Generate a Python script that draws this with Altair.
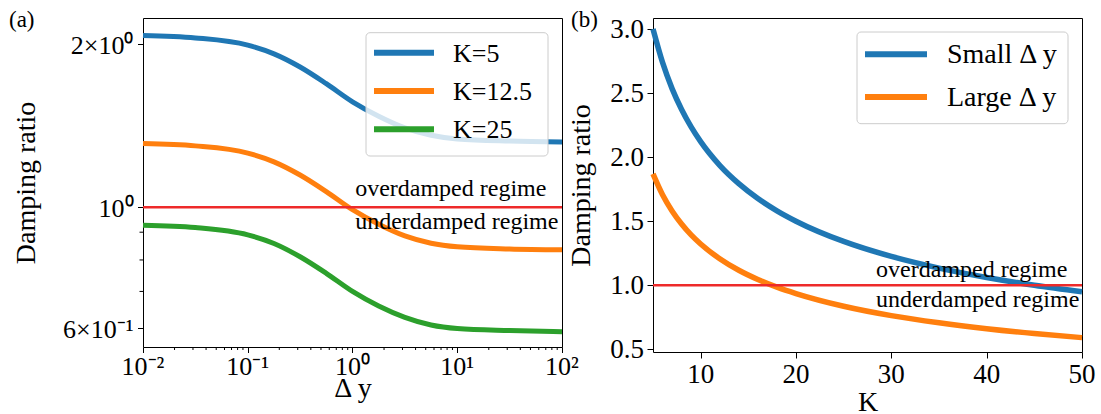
import altair as alt
import pandas as pd

FONT = "Liberation Serif"
RED = "#ee2a2a"

# ---------------- Panel (a) data ----------------
dy = [0.01, 0.0316, 0.1, 0.178, 0.316, 0.562, 1.0, 1.778, 3.162, 5.623, 10.0, 31.62, 100.0]
k5 = [2.073, 2.052, 1.990, 1.918, 1.814, 1.690, 1.565, 1.472, 1.401, 1.358, 1.337, 1.325, 1.320]
k12 = [1.311, 1.298, 1.259, 1.213, 1.147, 1.069, 0.990, 0.931, 0.886, 0.859, 0.846, 0.838, 0.835]
k25 = [0.927, 0.918, 0.890, 0.858, 0.811, 0.756, 0.700, 0.658, 0.627, 0.607, 0.598, 0.593, 0.590]
names_a = ["K=5", "K=12.5", "K=25"]
colors_a = ["#1f77b4", "#ff7f0e", "#2ca02c"]

xa_ticks = [0.01, 0.1, 1, 10, 100]
xa_labels = ["10⁻²", "10⁻¹", "10⁰", "10¹", "10²"]
xa_minor = [0.02, 0.03, 0.04, 0.05, 0.06, 0.07, 0.08, 0.09,
            0.2, 0.3, 0.4, 0.5, 0.6, 0.7, 0.8, 0.9,
            2, 3, 4, 5, 6, 7, 8, 9,
            20, 30, 40, 50, 60, 70, 80, 90]
ya_ticks = [0.6, 1, 2]
ya_labels = ["6×10⁻¹", "10⁰", "2×10⁰"]
ya_minor = [0.7, 0.8, 0.9]

# ---------------- Panel (b) data ----------------
kk = [5, 6, 7, 8, 9, 10, 12, 14, 16, 18, 20, 25, 30, 35, 40, 45, 50]
small_dy = [3.000, 2.739, 2.535, 2.372, 2.236, 2.121, 1.936, 1.793, 1.677, 1.581, 1.500,
            1.342, 1.225, 1.134, 1.061, 1.000, 0.949]
large_dy = [1.869, 1.706, 1.580, 1.478, 1.393, 1.322, 1.207, 1.117, 1.045, 0.985, 0.935,
            0.836, 0.763, 0.707, 0.661, 0.623, 0.591]
names_b = ["Small Δ y", "Large Δ y"]
colors_b = ["#1f77b4", "#ff7f0e"]
xb_ticks = [10, 20, 30, 40, 50]
xb_labels = ["10", "20", "30", "40", "50"]
yb_ticks = [0.5, 1.0, 1.5, 2.0, 2.5, 3.0]
yb_labels = ["0.5", "1.0", "1.5", "2.0", "2.5", "3.0"]

W1, H1 = 419, 329
W2, H2 = 429, 334


def axis(**kw):
    base = dict(labels=False, titleFont=FONT, titleColor="black", titleFontWeight="normal",
                tickColor="black", tickWidth=1, domain=False, grid=False, titleFontSize=28)
    base.update(kw)
    return alt.Axis(**base)


def manual_legend(names, colors, box, sym_x, label_x, row_y, font_size):
    """Legend box drawn with marks; box=(x1, x2, y1, y2) in panel pixels."""
    layers = [alt.Chart(pd.DataFrame({"a": [0]})).mark_rect(
        fill="white", fillOpacity=0.8, stroke="#cccccc", strokeWidth=1, cornerRadius=4).encode(
        x=alt.value(box[0]), x2=alt.value(box[1]), y=alt.value(box[2]), y2=alt.value(box[3]))]
    for i, (n, c) in enumerate(zip(names, colors)):
        d = pd.DataFrame({"t": [n]})
        layers.append(alt.Chart(d).mark_rule(color=c, strokeWidth=6).encode(
            x=alt.value(sym_x[0]), x2=alt.value(sym_x[1]),
            y=alt.value(row_y[i]), y2=alt.value(row_y[i])))
        layers.append(alt.Chart(d).mark_text(
            align="left", baseline="middle", font=FONT, fontSize=font_size, color="black").encode(
            x=alt.value(label_x), y=alt.value(row_y[i] + 1), text="t:N"))
    return layers


def x_labels(field, ticks, labels, scale, ax, y_px, size):
    return alt.Chart(pd.DataFrame({field: ticks, "lab": labels})).mark_text(
        align="center", baseline="alphabetic", font=FONT, fontSize=size, color="black").encode(
        x=alt.X(f"{field}:Q", scale=scale, axis=ax), y=alt.value(y_px), text="lab:N")


def y_labels(field, ticks, labels, scale, ax, x_px, dy_px, size):
    return alt.Chart(pd.DataFrame({field: ticks, "lab": labels})).mark_text(
        align="right", baseline="alphabetic", dy=dy_px, font=FONT, fontSize=size,
        color="black").encode(
        y=alt.Y(f"{field}:Q", scale=scale, axis=ax), x=alt.value(x_px), text="lab:N")


# ---------------- Panel (a) ----------------
sxa = alt.Scale(type="log", domain=[0.01, 100], nice=False)
sya = alt.Scale(type="log", domain=[0.553, 2.233], nice=False)
ax_xa = axis(values=xa_ticks, title="Δ y", tickSize=5.5, titlePadding=21)
ax_ya = axis(values=ya_ticks, title="Damping ratio", tickSize=5.5, titlePadding=97)

df_a = pd.DataFrame({
    "dy": dy * 3,
    "zeta": k5 + k12 + k25,
    "series": [names_a[0]] * len(dy) + [names_a[1]] * len(dy) + [names_a[2]] * len(dy),
})

lines_a = alt.Chart(df_a).mark_line(strokeWidth=5, interpolate="monotone").encode(
    x=alt.X("dy:Q", scale=sxa, axis=ax_xa),
    y=alt.Y("zeta:Q", scale=sya, axis=ax_ya),
    color=alt.Color("series:N", scale=alt.Scale(domain=names_a, range=colors_a), legend=None),
)

red_a = alt.Chart(pd.DataFrame({"zeta": [1.0]})).mark_rule(color=RED, strokeWidth=2.5).encode(
    y=alt.Y("zeta:Q", scale=sya, axis=ax_ya))

xminor_a = alt.Chart(pd.DataFrame({"dy": xa_minor})).mark_rule(color="black", strokeWidth=1).encode(
    x=alt.X("dy:Q", scale=sxa, axis=ax_xa), y=alt.value(H1), y2=alt.value(H1 + 3))
yminor_a = alt.Chart(pd.DataFrame({"zeta": ya_minor})).mark_rule(color="black", strokeWidth=1).encode(
    y=alt.Y("zeta:Q", scale=sya, axis=ax_ya), x=alt.value(0), x2=alt.value(-3.5))

xlab_a = x_labels("dy", xa_ticks, xa_labels, sxa, ax_xa, H1 + 28, 26)
ylab_a = y_labels("zeta", ya_ticks, ya_labels, sya, ax_ya, -9.5, 10, 26)

ann_a = alt.Chart(pd.DataFrame({"dy": [1.06, 1.06], "zeta": [1.048, 0.912],
                                "t": ["overdamped regime", "underdamped regime"]})).mark_text(
    align="left", baseline="alphabetic", font=FONT, fontSize=24, color="black").encode(
    x=alt.X("dy:Q", scale=sxa, axis=ax_xa), y=alt.Y("zeta:Q", scale=sya, axis=ax_ya), text="t:N")

tag_a = alt.Chart(pd.DataFrame({"t": ["(a)"]})).mark_text(
    align="left", baseline="top", font=FONT, fontSize=23, color="black").encode(
    x=alt.value(-134), y=alt.value(-9), text="t:N")

leg_a = manual_legend(names_a, colors_a, box=(223, 405, 14.7, 138), sym_x=(231, 291),
                      label_x=310, row_y=[34.7, 73, 111.3], font_size=26)

panel_a = alt.layer(lines_a, red_a, xminor_a, yminor_a, xlab_a, ylab_a, ann_a, tag_a,
                    *leg_a).properties(width=W1, height=H1)

# ---------------- Panel (b) ----------------
sxb = alt.Scale(domain=[5, 50], nice=False)
syb = alt.Scale(domain=[0.479, 3.086], nice=False)
ax_xb = axis(values=xb_ticks, title="K", tickSize=6, titlePadding=30)
ax_yb = axis(values=yb_ticks, title="Damping ratio", tickSize=6, titlePadding=51)

df_b = pd.DataFrame({
    "K": kk * 2,
    "zeta": small_dy + large_dy,
    "series": [names_b[0]] * len(kk) + [names_b[1]] * len(kk),
})

lines_b = alt.Chart(df_b).mark_line(strokeWidth=5.5, interpolate="monotone").encode(
    x=alt.X("K:Q", scale=sxb, axis=ax_xb),
    y=alt.Y("zeta:Q", scale=syb, axis=ax_yb),
    color=alt.Color("series:N", scale=alt.Scale(domain=names_b, range=colors_b), legend=None),
)

red_b = alt.Chart(pd.DataFrame({"zeta": [1.0]})).mark_rule(color=RED, strokeWidth=2.5).encode(
    y=alt.Y("zeta:Q", scale=syb, axis=ax_yb))

xlab_b = x_labels("K", xb_ticks, xb_labels, sxb, ax_xb, H2 + 31, 27)
ylab_b = y_labels("zeta", yb_ticks, yb_labels, syb, ax_yb, -9, 9, 27)

ann_b = alt.Chart(pd.DataFrame({"K": [28.4, 28.4], "zeta": [1.065, 0.830],
                                "t": ["overdamped regime", "underdamped regime"]})).mark_text(
    align="left", baseline="alphabetic", font=FONT, fontSize=24, color="black").encode(
    x=alt.X("K:Q", scale=sxb, axis=ax_xb), y=alt.Y("zeta:Q", scale=syb, axis=ax_yb), text="t:N")

tag_b = alt.Chart(pd.DataFrame({"t": ["(b)"]})).mark_text(
    align="left", baseline="top", font=FONT, fontSize=23, color="black").encode(
    x=alt.value(-82), y=alt.value(-9), text="t:N")

leg_b = manual_legend(names_b, colors_b, box=(204, 415, 14, 105.7), sym_x=(212, 274),
                      label_x=294, row_y=[36.3, 79], font_size=28)

panel_b = alt.layer(lines_b, red_b, xlab_b, ylab_b, ann_b, tag_b, *leg_b).properties(
    width=W2, height=H2)

chart = alt.hconcat(panel_a, panel_b, spacing=91, bounds="flush").resolve_scale(
    color="independent").properties(
    padding={"left": 8, "top": 8, "right": 5, "bottom": 4}, background="white").configure(
    font=FONT).configure_view(
    stroke="black", strokeWidth=1).configure_axis(
    titleFont=FONT, titleFontSize=28, titleFontWeight="normal", titleColor="black",
    tickColor="black")

chart.save("out.html", embed_options={"renderer": "svg", "actions": False})
